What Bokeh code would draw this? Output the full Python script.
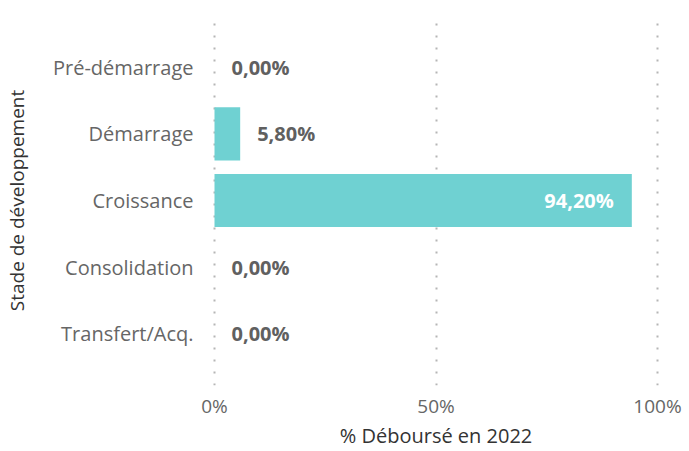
from bokeh.plotting import figure
from bokeh.models import ColumnDataSource, FixedTicker, Range1d
from bokeh.core.properties import value
from bokeh.embed import file_html
from bokeh.resources import INLINE

categories = ["Pré-démarrage", "Démarrage", "Croissance", "Consolidation", "Transfert/Acq."]
values = [0.0, 5.8, 94.2, 0.0, 0.0]
x_ticks = [0, 50, 100]
x_tick_labels = ["0%", "50%", "100%"]

FONT = "Open Sans"
n = len(categories)
ypos = [n - 1 - i for i in range(n)]
labels = [f"{v:.2f}".replace(".", ",") + "%" for v in values]

inside = [v > 50 for v in values]
src_out = ColumnDataSource(dict(y=[y for y, s in zip(ypos, inside) if not s],
                                x=[v for v, s in zip(values, inside) if not s],
                                t=[l for l, s in zip(labels, inside) if not s]))
src_in = ColumnDataSource(dict(y=[y for y, s in zip(ypos, inside) if s],
                               x=[v for v, s in zip(values, inside) if s],
                               t=[l for l, s in zip(labels, inside) if s]))
src = ColumnDataSource(dict(y=ypos, x=values))

p = figure(width=689, height=451, output_backend="svg", toolbar_location=None,
           x_range=Range1d(-0.45, 100.45), y_range=Range1d(-0.78, n - 1 + 0.78),
           min_border_left=212, min_border_right=30, min_border_top=15, min_border_bottom=20)
p.outline_line_color = None
p.background_fill_color = "white"

p.hbar(y="y", right="x", left=0, height=0.8, source=src, color="#6fd1d2", line_color=None)

p.text(x="x", y="y", text="t", source=src_out, x_offset=17, text_align="left",
       text_baseline="middle", text_font=value(FONT), text_font_style="bold",
       text_font_size="20px", text_color="#606060")
p.text(x="x", y="y", text="t", source=src_in, x_offset=-18, text_align="right",
       text_baseline="middle", text_font=value(FONT), text_font_style="bold",
       text_font_size="20px", text_color="white")

# grid
p.ygrid.visible = False
p.xgrid.ticker = FixedTicker(ticks=x_ticks)
p.xgrid.grid_line_color = "#b5b5b5"
p.xgrid.grid_line_dash = "2 10"
p.xgrid.grid_line_width = 2

# x axis
p.xaxis.ticker = FixedTicker(ticks=x_ticks)
p.xaxis.major_label_overrides = {t: l for t, l in zip(x_ticks, x_tick_labels)}
p.xaxis.axis_line_color = None
p.xaxis.major_tick_line_color = None
p.xaxis.minor_tick_line_color = None
p.xaxis.major_tick_out = 0
p.xaxis.major_tick_in = 0
p.xaxis.major_label_text_font = FONT
p.xaxis.major_label_text_font_size = "19px"
p.xaxis.major_label_text_color = "#666666"
p.xaxis.major_label_standoff = 7
p.xaxis.axis_label = "% Déboursé en 2022"
p.xaxis.axis_label_text_font = FONT
p.xaxis.axis_label_text_font_style = "normal"
p.xaxis.axis_label_text_font_size = "20px"
p.xaxis.axis_label_text_color = "#333333"
p.xaxis.axis_label_standoff = 0

# y axis
p.yaxis.ticker = FixedTicker(ticks=ypos)
p.yaxis.major_label_overrides = {y: c for y, c in zip(ypos, categories)}
p.yaxis.axis_line_color = None
p.yaxis.major_tick_line_color = None
p.yaxis.minor_tick_line_color = None
p.yaxis.major_tick_out = 0
p.yaxis.major_tick_in = 0
p.yaxis.major_label_text_font = FONT
p.yaxis.major_label_text_font_size = "20px"
p.yaxis.major_label_text_color = "#666666"
p.yaxis.major_label_standoff = 19
p.yaxis.axis_label = "Stade de développement"
p.yaxis.axis_label_text_font = FONT
p.yaxis.axis_label_text_font_style = "normal"
p.yaxis.axis_label_text_font_size = "19px"
p.yaxis.axis_label_text_color = "#333333"
p.yaxis.axis_label_standoff = 20

open("out.html", "w").write(file_html(p, INLINE))
